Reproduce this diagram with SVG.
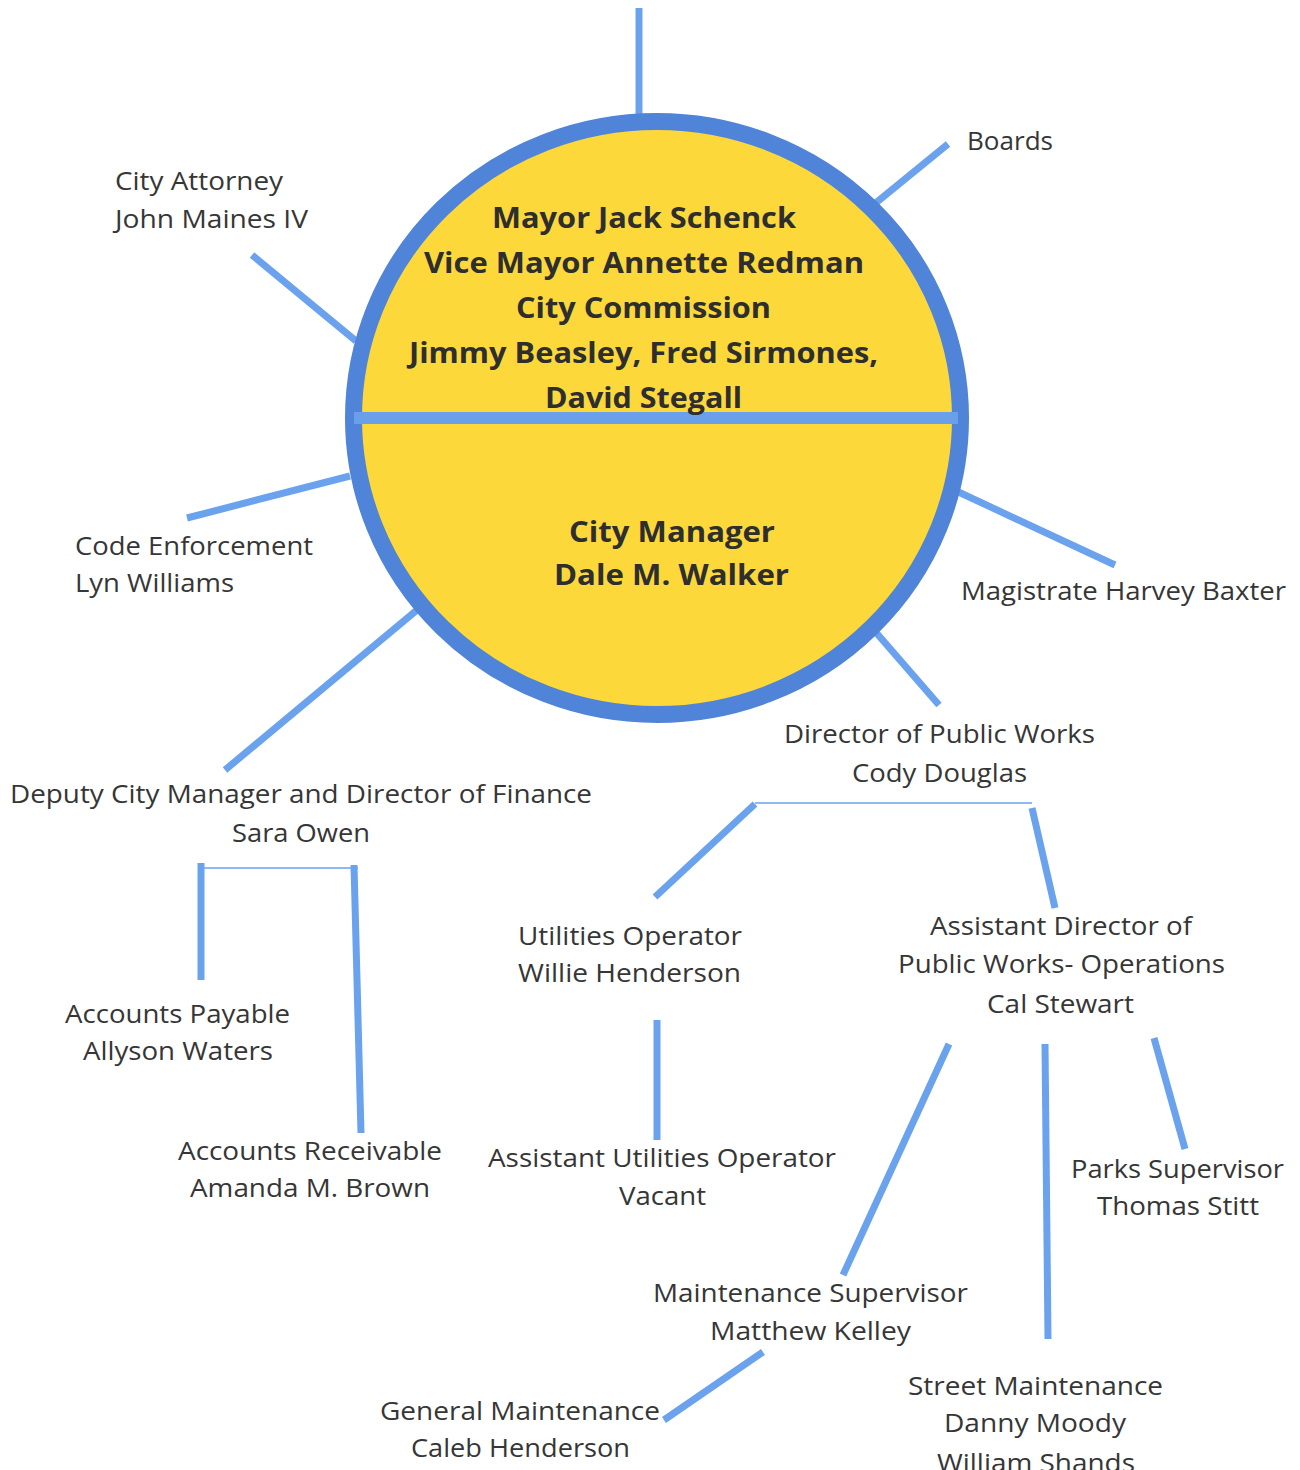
<svg xmlns="http://www.w3.org/2000/svg" width="1300" height="1470" viewBox="0 0 1300 1470">
  <style>
    .lbl { font-family: "Open Sans", "Liberation Sans", sans-serif; font-size: 25px; fill: #363636; }
    .hd { font-family: "Open Sans", "Liberation Sans", sans-serif; font-size: 28px; font-weight: bold; fill: #2e2e2e; }
    .link { stroke: #6ba2ee; stroke-width: 7; fill: none; stroke-linecap: butt; }
    .thin { stroke: #6ba2ee; stroke-width: 1.5; fill: none; }
  </style>
  <rect width="1300" height="1470" fill="#ffffff"/>

  <!-- connectors -->
  <g id="connectors">
    <line class="link" x1="639" y1="8" x2="639" y2="131"/>
    <line class="link" x1="948" y1="144" x2="872" y2="206"/>
    <line class="link" x1="252" y1="255" x2="356" y2="341"/>
    <line class="link" x1="187" y1="518" x2="350" y2="476"/>
    <line class="link" x1="1115" y1="565" x2="952" y2="489"/>
    <line class="link" x1="939" y1="705" x2="873" y2="629"/>
    <line class="link" x1="225" y1="770" x2="417" y2="610"/>
    <!-- public works branch -->
    <line class="thin" x1="755" y1="803" x2="1032" y2="803"/>
    <line class="link" x1="755" y1="804" x2="655" y2="897"/>
    <line class="link" x1="1032" y1="808" x2="1055" y2="908"/>
    <line class="link" x1="657" y1="1020" x2="657" y2="1140"/>
    <line class="link" x1="949" y1="1044" x2="843" y2="1275"/>
    <line class="link" x1="1045" y1="1044" x2="1048" y2="1339"/>
    <line class="link" x1="1154" y1="1038" x2="1185" y2="1149"/>
    <line class="link" x1="763" y1="1352" x2="664" y2="1420"/>
    <!-- finance branch -->
    <line class="thin" x1="202" y1="868" x2="358" y2="868"/>
    <line class="link" x1="201" y1="863" x2="201" y2="980"/>
    <line class="link" x1="354" y1="865" x2="361" y2="1133"/>
  </g>

  <!-- governing body and city manager -->
  <g id="council-circle">
    <ellipse cx="657" cy="418" rx="303.5" ry="296.5" fill="#fcd83a" stroke="#4f84d8" stroke-width="17"/>
    <line x1="354" y1="418" x2="958" y2="418" stroke="#6aa0ea" stroke-width="12"/>
    <g id="commission">
      <text class="hd" x="492" y="228" textLength="304" lengthAdjust="spacingAndGlyphs">Mayor Jack Schenck</text>
      <text class="hd" x="424" y="273" textLength="440" lengthAdjust="spacingAndGlyphs">Vice Mayor Annette Redman</text>
      <text class="hd" x="516" y="318" textLength="255" lengthAdjust="spacingAndGlyphs">City Commission</text>
      <text class="hd" x="409" y="363" textLength="469" lengthAdjust="spacingAndGlyphs">Jimmy Beasley, Fred Sirmones,</text>
      <text class="hd" x="545" y="408" textLength="197" lengthAdjust="spacingAndGlyphs">David Stegall</text>
    </g>
    <g id="city-manager">
      <text class="hd" x="569" y="542" textLength="206" lengthAdjust="spacingAndGlyphs">City Manager</text>
      <text class="hd" x="554" y="585" textLength="235" lengthAdjust="spacingAndGlyphs">Dale M. Walker</text>
    </g>
  </g>

  <g id="boards">
    <text class="lbl" x="967" y="150" textLength="86" lengthAdjust="spacingAndGlyphs">Boards</text>
  </g>
  <g id="city-attorney">
    <text class="lbl" x="115" y="190" textLength="168" lengthAdjust="spacingAndGlyphs">City Attorney</text>
    <text class="lbl" x="115" y="228" textLength="193" lengthAdjust="spacingAndGlyphs">John Maines IV</text>
  </g>
  <g id="code-enforcement">
    <text class="lbl" x="75" y="555" textLength="238" lengthAdjust="spacingAndGlyphs">Code Enforcement</text>
    <text class="lbl" x="75" y="592" textLength="159" lengthAdjust="spacingAndGlyphs">Lyn Williams</text>
  </g>
  <g id="magistrate">
    <text class="lbl" x="961" y="600" textLength="325" lengthAdjust="spacingAndGlyphs">Magistrate Harvey Baxter</text>
  </g>
  <g id="public-works-director">
    <text class="lbl" x="784" y="743" textLength="311" lengthAdjust="spacingAndGlyphs">Director of Public Works</text>
    <text class="lbl" x="852" y="782" textLength="175" lengthAdjust="spacingAndGlyphs">Cody Douglas</text>
  </g>
  <g id="deputy-manager">
    <text class="lbl" x="10" y="803" textLength="582" lengthAdjust="spacingAndGlyphs">Deputy City Manager and Director of Finance</text>
    <text class="lbl" x="232" y="842" textLength="138" lengthAdjust="spacingAndGlyphs">Sara Owen</text>
  </g>
  <g id="accounts-payable">
    <text class="lbl" x="65" y="1023" textLength="225" lengthAdjust="spacingAndGlyphs">Accounts Payable</text>
    <text class="lbl" x="83" y="1060" textLength="190" lengthAdjust="spacingAndGlyphs">Allyson Waters</text>
  </g>
  <g id="accounts-receivable">
    <text class="lbl" x="178" y="1160" textLength="264" lengthAdjust="spacingAndGlyphs">Accounts Receivable</text>
    <text class="lbl" x="190" y="1197" textLength="240" lengthAdjust="spacingAndGlyphs">Amanda M. Brown</text>
  </g>
  <g id="utilities-operator">
    <text class="lbl" x="518" y="945" textLength="224" lengthAdjust="spacingAndGlyphs">Utilities Operator</text>
    <text class="lbl" x="518" y="982" textLength="223" lengthAdjust="spacingAndGlyphs">Willie Henderson</text>
  </g>
  <g id="assistant-utilities-operator">
    <text class="lbl" x="488" y="1167" textLength="348" lengthAdjust="spacingAndGlyphs">Assistant Utilities Operator</text>
    <text class="lbl" x="619" y="1205" textLength="87" lengthAdjust="spacingAndGlyphs">Vacant</text>
  </g>
  <g id="assistant-director">
    <text class="lbl" x="930" y="935" textLength="262" lengthAdjust="spacingAndGlyphs">Assistant Director of</text>
    <text class="lbl" x="898" y="973" textLength="327" lengthAdjust="spacingAndGlyphs">Public Works- Operations</text>
    <text class="lbl" x="987" y="1013" textLength="147" lengthAdjust="spacingAndGlyphs">Cal Stewart</text>
  </g>
  <g id="parks-supervisor">
    <text class="lbl" x="1071" y="1178" textLength="213" lengthAdjust="spacingAndGlyphs">Parks Supervisor</text>
    <text class="lbl" x="1097" y="1215" textLength="162" lengthAdjust="spacingAndGlyphs">Thomas Stitt</text>
  </g>
  <g id="maintenance-supervisor">
    <text class="lbl" x="653" y="1302" textLength="315" lengthAdjust="spacingAndGlyphs">Maintenance Supervisor</text>
    <text class="lbl" x="710" y="1340" textLength="201" lengthAdjust="spacingAndGlyphs">Matthew Kelley</text>
  </g>
  <g id="general-maintenance">
    <text class="lbl" x="380" y="1420" textLength="280" lengthAdjust="spacingAndGlyphs">General Maintenance</text>
    <text class="lbl" x="411" y="1457" textLength="219" lengthAdjust="spacingAndGlyphs">Caleb Henderson</text>
  </g>
  <g id="street-maintenance">
    <text class="lbl" x="908" y="1395" textLength="255" lengthAdjust="spacingAndGlyphs">Street Maintenance</text>
    <text class="lbl" x="944" y="1432" textLength="182" lengthAdjust="spacingAndGlyphs">Danny Moody</text>
    <text class="lbl" x="937" y="1472" textLength="198" lengthAdjust="spacingAndGlyphs">William Shands</text>
  </g>
</svg>
